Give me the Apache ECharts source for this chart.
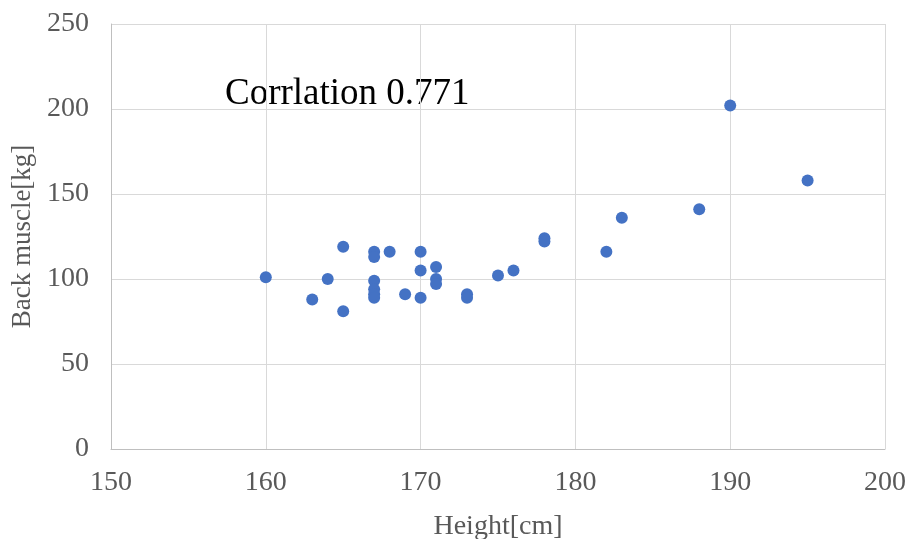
<!DOCTYPE html>
<html>
<head>
    <meta charset="utf-8">
    <script src="https://cdn.jsdelivr.net/npm/echarts@6/dist/echarts.min.js"></script>
</head>
<body style="margin:0;">
    <div id="main" style="width: 912px;height:539px;"></div>

<script type="text/javascript">
    // heights [cm] and back muscle [kg]
    var heights = [160, 163, 164, 165, 165, 167, 167, 167, 167, 167, 167, 168, 169, 170, 170,
                   170, 171, 171, 171, 173, 173, 175, 176, 178, 178, 182, 183, 188, 190, 195];
    var muscles = [101, 88, 100, 119, 81, 116, 113, 99, 94, 91, 89, 116, 91, 116, 105,
                   89, 107, 100, 97, 91, 89, 102, 105, 124, 122, 116, 136, 141, 202, 158];
    var corrText = 'Corrlation 0.771';

    var points = [];
    for (var i = 0; i < heights.length; i++) {
        points.push([heights[i], muscles[i]]);
    }

    var font = 'Liberation Serif';
    var myChart = echarts.init(document.getElementById('main'));

    var option = {
        backgroundColor: '#fff',
        animation: false,
        grid: {
            left: 111,
            right: 27,
            top: 24,
            bottom: 90,
            outerBoundsMode: 'none'
        },
        graphic: [{
            type: 'text',
            left: 225,
            top: 76,
            style: {
                text: corrText,
                fill: '#000',
                font: '37px "Liberation Serif"'
            }
        }],
        xAxis: {
            type: 'value',
            min: 150,
            max: 200,
            interval: 10,
            name: 'Height[cm]',
            nameLocation: 'middle',
            nameGap: 64,
            nameTextStyle: { color: '#595959', fontSize: 28, fontFamily: font },
            axisLine: { show: true, lineStyle: { color: '#bfbfbf', width: 1 } },
            axisTick: { show: false },
            axisLabel: { color: '#595959', fontSize: 28, fontFamily: font, margin: 20 },
            splitLine: { show: true, lineStyle: { color: '#d9d9d9', width: 1 } }
        },
        yAxis: {
            type: 'value',
            min: 0,
            max: 250,
            interval: 50,
            name: 'Back muscle[kg]',
            nameLocation: 'middle',
            nameGap: 68,
            nameTextStyle: { color: '#595959', fontSize: 27, fontFamily: font },
            axisLine: { show: true, lineStyle: { color: '#bfbfbf', width: 1 } },
            axisTick: { show: false },
            axisLabel: { color: '#595959', fontSize: 28, fontFamily: font, margin: 22 },
            splitLine: { show: true, lineStyle: { color: '#d9d9d9', width: 1 } }
        },
        series: [{
            type: 'scatter',
            data: points,
            symbolSize: 12,
            itemStyle: { color: '#4472c4', opacity: 1 }
        }]
    };

    myChart.setOption(option);
</script>
</body>
</html>
